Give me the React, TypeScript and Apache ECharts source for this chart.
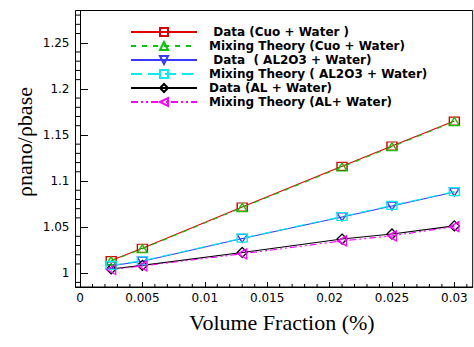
import React, { useEffect, useRef } from 'react';
import * as echarts from 'echarts';

const volumeFraction = [0.0025, 0.005, 0.013, 0.021, 0.025, 0.03];
const cuoData = [1.0137, 1.027, 1.0718, 1.1159, 1.138, 1.165];
const cuoTheory = [1.0133, 1.0265, 1.0712, 1.1152, 1.1372, 1.1645];
const al2o3Data = [1.008, 1.013, 1.0377, 1.061, 1.0728, 1.088];
const al2o3Theory = [1.0085, 1.0135, 1.038, 1.0615, 1.0735, 1.0885];
const alData = [1.0046, 1.0085, 1.0225, 1.037, 1.0425, 1.0513];
const alTheory = [1.004, 1.0078, 1.021, 1.035, 1.0405, 1.0505];

const legendNames = [
  ' Data (Cuo + Water )',
  'Mixing Theory (Cuo + Water)',
  ' Data  ( AL2O3 + Water)',
  'Mixing Theory ( AL2O3 + Water)',
  'Data (AL + Water)',
  'Mixing Theory (AL+ Water)',
];

const xMinorTicks = [
  0.001, 0.002, 0.003, 0.004, 0.006, 0.007, 0.008, 0.009, 0.011, 0.012, 0.013, 0.014,
  0.016, 0.017, 0.018, 0.019, 0.021, 0.022, 0.023, 0.024, 0.026, 0.027, 0.028, 0.029, 0.031,
];
const yMinorTicks = [
  0.99, 1.01, 1.02, 1.03, 1.04, 1.06, 1.07, 1.08, 1.09, 1.11, 1.12, 1.13, 1.14,
  1.16, 1.17, 1.18, 1.19, 1.21, 1.22, 1.23, 1.24, 1.26, 1.27, 1.28,
];

const X_MIN = -0.00036;
const X_MAX = 0.03147;
const Y_MIN = 0.985;
const Y_MAX = 1.285;

export default function App() {
  const ref = useRef<HTMLDivElement>(null);
  useEffect(() => {
    const chart = echarts.init(ref.current!, null, { renderer: 'svg' });
    const zip = (ys: number[]) => volumeFraction.map((x, i) => [x, ys[i]]);
    const mk = (
      name: string,
      ys: number[],
      color: string,
      symbol: string,
      size: number[],
      rotate: number,
      dash: any,
      z: number
    ) => ({
      type: 'line',
      name,
      data: zip(ys),
      symbol,
      symbolSize: size,
      symbolRotate: rotate,
      showAllSymbol: true,
      z,
      lineStyle: { color, width: 1.1, type: dash },
      itemStyle: { color: 'rgba(0,0,0,0)', borderColor: color, borderWidth: 1.3 },
      emphasis: { disabled: true },
    });
    const tickFont = { fontFamily: 'DejaVu Sans', fontSize: 12, color: '#000' };
    const option: any = {
      animation: false,
      backgroundColor: '#fff',
      grid: {
        left: 75.5,
        top: 10.5,
        right: 1.3,
        bottom: 60,
        show: true,
        borderColor: '#000',
        borderWidth: 1,
      },
      legend: {
        data: legendNames,
        orient: 'vertical',
        left: 130,
        top: 25,
        itemWidth: 66,
        itemHeight: 10,
        itemGap: 0,
        padding: 0,
        selectedMode: false,
        textStyle: {
          fontFamily: 'DejaVu Sans',
          fontWeight: 'bold',
          fontSize: 12,
          color: '#000',
          lineHeight: 14,
          padding: [0, 0, 0, 7],
        },
      },
      xAxis: {
        type: 'value',
        min: X_MIN,
        max: X_MAX,
        splitNumber: 6,
        splitLine: { show: false },
        axisLine: { lineStyle: { color: '#000', width: 1 } },
        axisTick: { inside: true, length: 5, lineStyle: { color: '#000' } },
        axisLabel: { ...tickFont, margin: 5, showMinLabel: false, showMaxLabel: false },
      },
      yAxis: {
        type: 'value',
        min: Y_MIN,
        max: Y_MAX,
        splitNumber: 6,
        splitLine: { show: false },
        axisLine: { show: true, lineStyle: { color: '#000', width: 1 } },
        axisTick: { show: true, inside: true, length: 8, lineStyle: { color: '#000' } },
        axisLabel: { ...tickFont, margin: 6, showMinLabel: false, showMaxLabel: false },
      },
      graphic: [
        {
          type: 'text',
          x: 24,
          y: 142,
          rotation: Math.PI / 2,
          style: {
            text: 'ρnano/ρbase',
            font: '22px "Liberation Serif"',
            fill: '#000',
            textAlign: 'center',
            textVerticalAlign: 'middle',
          },
        },
        {
          type: 'text',
          x: 282,
          y: 322,
          style: {
            text: 'Volume Fraction (%)',
            font: '22px "Liberation Serif"',
            fill: '#000',
            textAlign: 'center',
            textVerticalAlign: 'middle',
          },
        },
      ],
      series: [
        mk(legendNames[0], cuoData, '#e00000', 'rect', [10, 8], 0, 'solid', 3),
        mk(legendNames[1], cuoTheory, '#00c800', 'triangle', [10, 8], 0, [5, 6], 4),
        mk(legendNames[2], al2o3Data, '#3838ff', 'triangle', [10, 8], 180, 'solid', 3),
        mk(legendNames[3], al2o3Theory, '#00f0f0', 'rect', [10, 8], 0, [11, 6], 4),
        mk(legendNames[4], alData, '#000000', 'diamond', [10, 10], 0, 'solid', 3),
        mk(legendNames[5], alTheory, '#ff00ff', 'triangle', [10, 9], 90, [7, 3, 2, 3, 2, 3], 4),
        {
          type: 'custom',
          silent: true,
          clip: false,
          z: 1,
          data: yMinorTicks.map((v) => [X_MIN, v]),
          renderItem: (params: any, api: any) => {
            const p = api.coord([api.value(0), api.value(1)]);
            return {
              type: 'line',
              shape: { x1: p[0], y1: p[1], x2: p[0] + 5, y2: p[1] },
              style: { stroke: '#000', lineWidth: 1 },
            };
          },
        },
        {
          type: 'custom',
          silent: true,
          clip: false,
          z: 1,
          data: xMinorTicks.map((v) => [v, Y_MIN]),
          renderItem: (params: any, api: any) => {
            const p = api.coord([api.value(0), api.value(1)]);
            return {
              type: 'line',
              shape: { x1: p[0], y1: p[1], x2: p[0], y2: p[1] - 3 },
              style: { stroke: '#000', lineWidth: 1 },
            };
          },
        },
      ],
    };
    chart.setOption(option);
    return () => chart.dispose();
  }, []);
  return (
    <div
      ref={ref}
      style={{ position: 'fixed', left: 0, top: 0, width: 474, height: 347 }}
    />
  );
}
